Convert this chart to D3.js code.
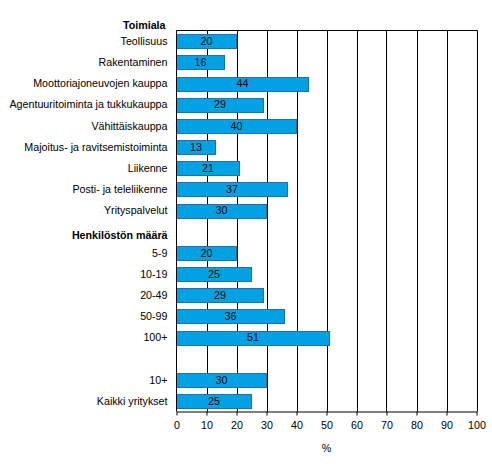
<!DOCTYPE html>
<html>
<head>
<meta charset="utf-8">
<script src="https://cdn.jsdelivr.net/npm/d3@7"></script>
<style>
  html, body { margin: 0; padding: 0; background: #fff; }
  svg { display: block; }
  text { font-family: "Liberation Sans", Arial, sans-serif; font-size: 10.7px; fill: #000; }
</style>
</head>
<body>
<svg id="chart" width="492" height="471"></svg>
<script>
// Row labels (top to bottom); null value = header / blank row
const categories = [
  "Teollisuus", "Rakentaminen", "Moottoriajoneuvojen kauppa",
  "Agentuuritoiminta ja tukkukauppa", "Vähittäiskauppa",
  "Majoitus- ja ravitsemistoiminta", "Liikenne", "Posti- ja teleliikenne",
  "Yrityspalvelut", "Henkilöstön määrä", "5-9", "10-19", "20-49", "50-99",
  "100+", "", "10+", "Kaikki yritykset"
];
const values = [20, 16, 44, 29, 40, 13, 21, 37, 30, null, 20, 25, 29, 36, 51, null, 30, 25];
const headers = ["Henkilöstön määrä"];
const topHeader = "Toimiala";
const xTicks = [0, 10, 20, 30, 40, 50, 60, 70, 80, 90, 100];
const xLabel = "%";

const svg = d3.select("#chart");
const mLeft = 176.5, mRight = 476.5, mTop = 30.5, mBottom = 411.5;

const rows = categories.map((c, i) => ({ id: i, label: c, value: values[i] }));

const x = d3.scaleLinear().domain([0, 100]).range([mLeft, mRight]);
const y = d3.scaleBand().domain(rows.map(d => d.id)).range([mTop, mBottom]).paddingInner(0.36).paddingOuter(0.18);

// gridlines
svg.append("g").selectAll("line").data(xTicks.filter(t => t > 0)).join("line")
  .attr("x1", d => Math.round(x(d)) + 0.5).attr("x2", d => Math.round(x(d)) + 0.5)
  .attr("y1", mTop).attr("y2", mBottom)
  .attr("stroke", "#000").attr("stroke-width", 1);

// top border
svg.append("line").attr("x1", mLeft).attr("x2", Math.round(x(100)) + 0.5)
  .attr("y1", mTop).attr("y2", mTop).attr("stroke", "#000");

// bars
const barRows = rows.filter(d => d.value != null);
svg.append("g").selectAll("rect").data(barRows).join("rect")
  .attr("x", x(0))
  .attr("y", d => Math.round(y(d.id)) + 0.5)
  .attr("width", d => x(d.value) - x(0))
  .attr("height", Math.round(y.bandwidth()))
  .attr("fill", "#00a2e3")
  .attr("stroke", "#1f6fb2")
  .attr("stroke-width", 1);

// value labels
svg.append("g").selectAll("text").data(barRows).join("text")
  .attr("x", d => (x(0) + x(d.value)) / 2)
  .attr("y", d => y(d.id) + y.bandwidth() / 2)
  .attr("dy", "0.36em")
  .attr("text-anchor", "middle")
  .text(d => d.value);

// category labels
svg.append("g").selectAll("text").data(rows.filter(d => d.label !== "")).join("text")
  .attr("x", mLeft - 9)
  .attr("y", d => y(d.id) + y.bandwidth() / 2 + (headers.includes(d.label) ? 4 : 0))
  .attr("dy", "0.36em")
  .attr("text-anchor", "end")
  .style("font-weight", d => headers.includes(d.label) ? "bold" : "normal")
  .text(d => d.label);

svg.append("text")
  .attr("x", mLeft - 11).attr("y", mTop - 5).attr("dy", "0.36em")
  .attr("text-anchor", "end").style("font-weight", "bold")
  .text(topHeader);

// left axis line
svg.append("line").attr("x1", mLeft).attr("x2", mLeft)
  .attr("y1", mTop).attr("y2", mBottom).attr("stroke", "#000");

// bottom axis
const xAxis = d3.axisBottom(x).tickValues(xTicks).tickSize(4).tickPadding(6).tickSizeOuter(0);
const gx = svg.append("g").attr("transform", `translate(0,${mBottom})`).call(xAxis);
gx.select(".domain").attr("stroke", "#000");
gx.selectAll(".tick line").attr("stroke", "#000");
gx.selectAll(".tick text").style("font-family", '"Liberation Sans", Arial, sans-serif').style("font-size", "10.7px").attr("fill", "#000");

svg.append("text")
  .attr("x", x(50)).attr("y", 448).attr("dy", "0.36em")
  .attr("text-anchor", "middle").text(xLabel);
</script>
</body>
</html>
